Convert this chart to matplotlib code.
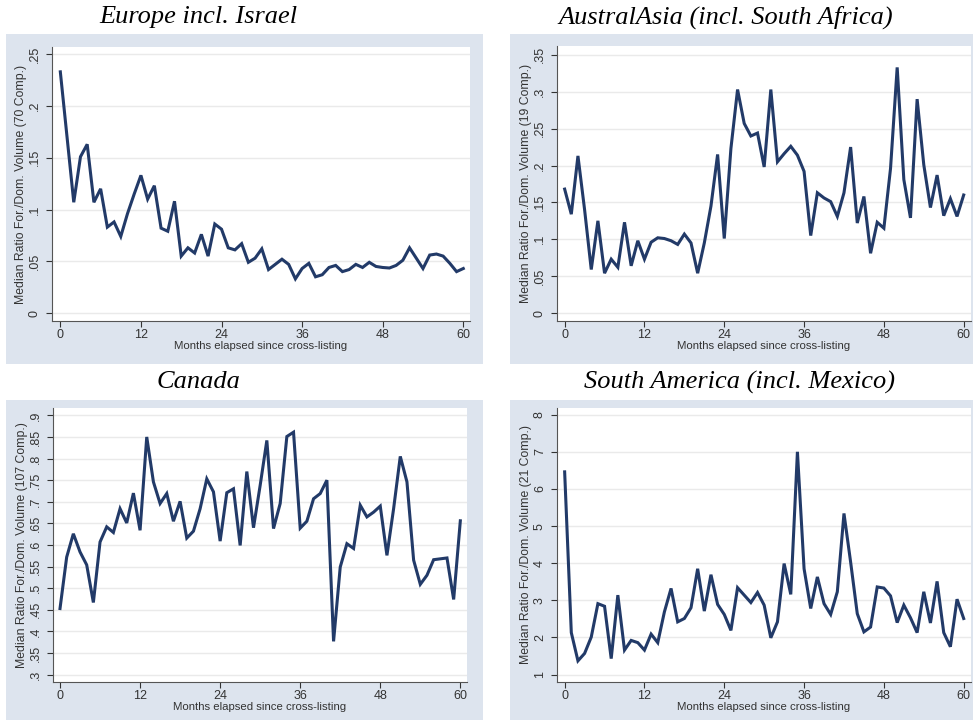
import numpy as np
import matplotlib
matplotlib.use("Agg")
import matplotlib.pyplot as plt
from matplotlib.patches import Rectangle

FIG_SIZE = (9.73, 7.2)
BG = '#dde4ee'
NAVY = '#223a68'

months = list(range(61))

europe = [0.233, 0.170, 0.107, 0.151, 0.163, 0.107, 0.120, 0.083, 0.088, 0.074,
          0.096, 0.115, 0.133, 0.110, 0.123, 0.082, 0.079, 0.108, 0.055, 0.063,
          0.058, 0.076, 0.055, 0.086, 0.081, 0.063, 0.061, 0.067, 0.049, 0.053,
          0.062, 0.042, 0.047, 0.052, 0.047, 0.033, 0.043, 0.048, 0.035, 0.037,
          0.044, 0.046, 0.040, 0.042, 0.047, 0.044, 0.049, 0.045, 0.044, 0.0435,
          0.046, 0.051, 0.063, 0.053, 0.043, 0.056, 0.057, 0.055, 0.048, 0.040,
          0.043]

australasia = [0.168, 0.134, 0.213, 0.140, 0.059, 0.125, 0.054, 0.073, 0.062, 0.123,
               0.064, 0.098, 0.073, 0.096, 0.102, 0.101, 0.098, 0.093, 0.107, 0.095,
               0.054, 0.095, 0.145, 0.215, 0.101, 0.223, 0.303, 0.257, 0.240, 0.244,
               0.198, 0.303, 0.205, 0.216, 0.226, 0.214, 0.192, 0.105, 0.163, 0.156,
               0.151, 0.131, 0.163, 0.225, 0.122, 0.158, 0.081, 0.123, 0.115, 0.196,
               0.333, 0.181, 0.129, 0.290, 0.201, 0.143, 0.187, 0.132, 0.155, 0.131,
               0.160]

canada = [0.453, 0.572, 0.626, 0.584, 0.554, 0.467, 0.607, 0.642, 0.629, 0.684,
          0.651, 0.720, 0.634, 0.850, 0.746, 0.696, 0.719, 0.655, 0.701, 0.616,
          0.632, 0.684, 0.753, 0.723, 0.609, 0.721, 0.730, 0.599, 0.770, 0.640,
          0.738, 0.842, 0.638, 0.696, 0.851, 0.861, 0.639, 0.655, 0.707, 0.719,
          0.750, 0.377, 0.549, 0.603, 0.592, 0.692, 0.665, 0.676, 0.690, 0.576,
          0.684, 0.805, 0.746, 0.565, 0.509, 0.530, 0.566, 0.568, 0.570, 0.474,
          0.656]

south_america = [6.46, 2.13, 1.37, 1.57, 2.01, 2.91, 2.84, 1.43, 3.14, 1.66,
                 1.92, 1.86, 1.66, 2.09, 1.86, 2.69, 3.32, 2.42, 2.51, 2.80,
                 3.85, 2.71, 3.69, 2.89, 2.62, 2.19, 3.34, 3.14, 2.94, 3.21,
                 2.87, 1.99, 2.42, 3.99, 3.16, 7.00, 3.85, 2.78, 3.63, 2.91,
                 2.62, 3.23, 5.34, 4.03, 2.64, 2.15, 2.28, 3.36, 3.33, 3.12,
                 2.40, 2.87, 2.53, 2.13, 3.23, 2.39, 3.51, 2.13, 1.75, 3.03,
                 2.51]

x_ticks = [0, 12, 24, 36, 48, 60]

panels = [
    # title, data, yticks, ytick labels, n comp, ylim, xlim, title centre (px), box (px), plot area (px)
    ('Europe incl. Israel', europe,
     [0, .05, .1, .15, .2, .25], ['0', '.05', '.1', '.15', '.2', '.25'], 70,
     (-0.0077, 0.257), (-1.24, 61.0), (198, 17), (6, 34, 483, 364), (52, 47, 470, 321)),
    ('AustralAsia (incl. South Africa)', australasia,
     [0, .05, .1, .15, .2, .25, .3, .35], ['0', '.05', '.1', '.15', '.2', '.25', '.3', '.35'], 19,
     (-0.0108, 0.362), (-1.15, 61.1), (726, 17), (510, 34, 973, 364), (557, 46, 971, 321)),
    ('Canada', canada,
     [.3, .35, .4, .45, .5, .55, .6, .65, .7, .75, .8, .85, .9],
     ['.3', '.35', '.4', '.45', '.5', '.55', '.6', '.65', '.7', '.75', '.8', '.85', '.9'], 107,
     (0.283, 0.917), (-1.05, 61.0), (198, 382), (6, 400, 483, 720), (53, 408, 467, 682)),
    ('South America (incl. Mexico)', south_america,
     [1, 2, 3, 4, 5, 6, 7, 8], ['1', '2', '3', '4', '5', '6', '7', '8'], 21,
     (0.80, 8.18), (-1.15, 61.1), (740, 382), (510, 400, 973, 720), (557, 408, 971, 682)),
]

W, H = 973, 720

fig = plt.figure(figsize=FIG_SIZE, dpi=100)

for title, values, yticks, ylabels, ncomp, ylim, xlim, tpos, box, area in panels:
    bx0, by0, bx1, by1 = box
    fig.patches.append(Rectangle((bx0 / W, 1 - by1 / H), (bx1 - bx0) / W, (by1 - by0) / H,
                                 transform=fig.transFigure, facecolor=BG, edgecolor='none',
                                 zorder=-10))
    fig.text(tpos[0] / W, 1 - tpos[1] / H, title, ha='center', va='center',
             family='Liberation Serif', style='italic', fontsize=19)

    x0, y0, x1, y1 = area
    ax = fig.add_axes([x0 / W, 1 - y1 / H, (x1 - x0) / W, (y1 - y0) / H], zorder=2)
    ax.set_facecolor('white')
    ax.plot(months, values, color=NAVY, lw=2.2, solid_joinstyle='miter')
    ax.set_xlim(*xlim)
    ax.set_ylim(*ylim)
    ax.set_xticks(x_ticks)
    ax.set_yticks(yticks)
    ax.set_yticklabels(ylabels, rotation=90, va='center')
    ax.grid(axis='y', color='#eaeaea', lw=1)
    ax.set_axisbelow(True)
    for s in ['top', 'right']:
        ax.spines[s].set_visible(False)
    for s in ['left', 'bottom']:
        ax.spines[s].set_color('#555555')
        ax.spines[s].set_linewidth(0.8)
    ax.tick_params(colors='#333333', length=4, width=0.8, labelsize=9)
    ax.tick_params(axis='y', pad=4)
    ax.tick_params(axis='x', pad=1.5)
    ax.set_xlabel('Months elapsed since cross-listing', fontsize=8.2, color='#333333',
                  family='Liberation Sans', labelpad=0)
    ax.set_ylabel(f'Median Ratio For./Dom. Volume ({ncomp} Comp.)', fontsize=8.8,
                  color='#333333', family='Liberation Sans', labelpad=1)
    for lab in ax.get_xticklabels() + ax.get_yticklabels():
        lab.set_family('Liberation Sans')

fig.savefig('out.png', dpi=100)
